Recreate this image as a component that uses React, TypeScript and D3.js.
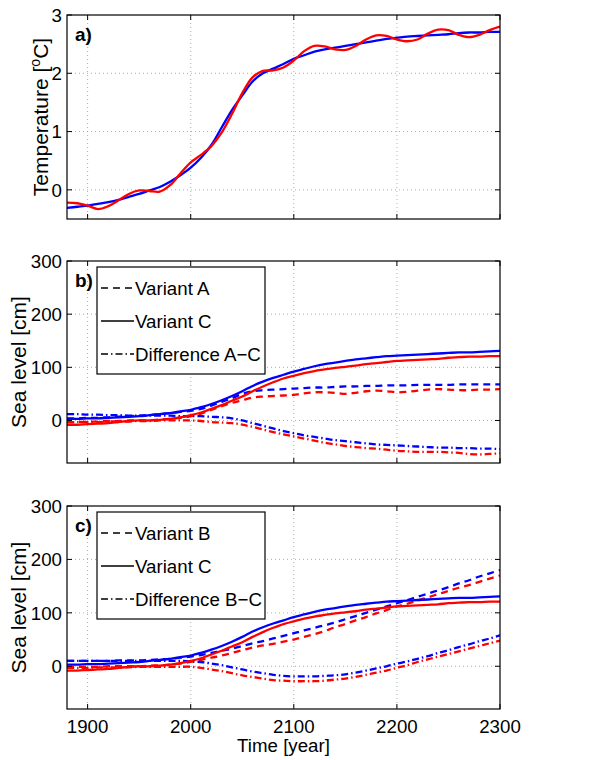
import React from "react";
import * as d3 from "d3";

// years sampled every 10 years
const years = [
  1880, 1890, 1900, 1910, 1920, 1930, 1940, 1950, 1960, 1970, 1980, 1990, 2000,
  2010, 2020, 2030, 2040, 2050, 2060, 2070, 2080, 2090, 2100, 2110, 2120, 2130,
  2140, 2150, 2160, 2170, 2180, 2190, 2200, 2210, 2220, 2230, 2240, 2250, 2260,
  2270, 2280, 2290, 2300,
];

// panel a: temperature
const tempBlue = [
  -0.31, -0.29, -0.27, -0.24, -0.21, -0.17, -0.12, -0.07, -0.01, 0.05, 0.14,
  0.25, 0.38, 0.55, 0.77, 1.07, 1.37, 1.62, 1.86, 2.0, 2.08, 2.16, 2.25, 2.31,
  2.37, 2.41, 2.44, 2.47, 2.5, 2.53, 2.56, 2.59, 2.61, 2.63, 2.64, 2.65, 2.66,
  2.67, 2.69, 2.7, 2.7, 2.71, 2.71,
];
const tempRed = [
  -0.22, -0.23, -0.27, -0.33, -0.28, -0.18, -0.07, -0.01, -0.02, -0.03, 0.08,
  0.28, 0.47, 0.6, 0.75, 0.98, 1.3, 1.66, 1.93, 2.04, 2.05, 2.1, 2.22, 2.38,
  2.47, 2.46, 2.41, 2.4, 2.47, 2.58, 2.65, 2.64, 2.58, 2.55, 2.58, 2.68, 2.75,
  2.74, 2.66, 2.62, 2.66, 2.74, 2.8,
];

// variant C (same in b and c)
const cBlue = [
  3, 3, 4, 4, 5, 6, 7, 8, 10, 12, 14, 17, 20, 25, 31, 38, 46, 55, 65, 73, 80,
  86, 92, 97, 102, 106, 109, 112, 115, 117, 119, 121, 122, 123, 124, 125, 126,
  127, 128, 128, 129, 130, 131,
];
const cRed = [
  -8, -8, -7, -6, -5, -3, -1, 0, 0, 1, 3, 6, 10, 15, 22, 29, 37, 45, 55, 64,
  72, 79, 84, 89, 93, 96, 99, 101, 103, 106, 108, 110, 112, 113, 114, 115, 116,
  118, 119, 120, 120, 121, 121,
];

// panel b: variant A and difference A-C
const aBlue = [
  4, 4, 5, 5, 6, 7, 8, 9, 10, 12, 14, 16, 18, 22, 28, 35, 42, 50, 55, 57, 58,
  59, 60, 61, 62, 62, 63, 64, 64, 65, 65, 66, 66, 66, 67, 67, 67, 67, 68, 68, 68,
  68, 68,
];
const aRed = [
  -3, -3, -2, -2, -1, -1, 0, 0, 0, 2, 3, 5, 8, 13, 20, 27, 33, 38, 43, 45, 46,
  47, 48, 51, 53, 53, 52, 50, 52, 55, 56, 55, 53, 54, 56, 58, 59, 58, 57, 57, 58,
  58, 59,
];
const diffABlue = [
  12, 12, 11, 11, 10, 10, 9, 9, 9, 9, 9, 8, 8, 8, 7, 6, 4, 0, -5, -10, -15,
  -20, -24, -28, -31, -34, -37, -39, -41, -43, -45, -46, -47, -48, -49, -50, -51,
  -51, -52, -52, -53, -53, -54,
];
const diffARed = [
  -3, -3, -3, -3, -2, -2, -2, -1, -1, 0, 0, 0, 0, -1, -3, -4, -5, -8, -12, -17,
  -22, -26, -30, -34, -38, -42, -45, -48, -50, -52, -53, -55, -57, -58, -59, -59,
  -59, -60, -61, -63, -64, -63, -62,
];

// panel c: variant B and difference B-C
const bBlue = [
  10, 10, 10, 10, 10, 11, 11, 11, 12, 13, 14, 16, 18, 21, 25, 29, 33, 38, 43,
  47, 52, 57, 62, 67, 72, 77, 82, 88, 94, 100, 106, 112, 118, 124, 130, 136, 142,
  148, 155, 161, 168, 174, 180,
];
const bRed = [
  -1, -1, -1, -1, 0, 0, 0, 0, 1, 2, 3, 5, 8, 12, 16, 20, 25, 30, 35, 39, 42, 46,
  50, 55, 60, 66, 73, 79, 86, 92, 99, 105, 112, 117, 123, 129, 135, 141, 147,
  152, 158, 164, 170,
];
const diffBBlue = [
  10, 10, 10, 10, 10, 10, 10, 10, 10, 10, 10, 10, 9, 8, 5, 2, -2, -6, -10, -13,
  -16, -18, -19, -19, -19, -18, -17, -15, -12, -8, -4, 0, 5, 9, 14, 19, 25, 30,
  36, 41, 47, 52, 58,
];
const diffBRed = [
  -3, -3, -3, -2, -2, -2, -2, -1, -1, -1, -1, -1, -1, -3, -6, -9, -13, -17, -20,
  -23, -26, -27, -28, -28, -28, -27, -25, -23, -20, -16, -12, -8, -3, 2, 8, 13,
  18, 23, 28, 33, 38, 43, 48,
];

const xTicks = [1900, 2000, 2100, 2200, 2300];
const tempTicks = [0, 1, 2, 3];
const seaTicks = [0, 100, 200, 300];

const BLUE = "#0000ff";
const RED = "#ff0000";
const DASH = "7,5";
const DASHDOT = "7,3,1.5,3";
const FONT = "'Liberation Sans', Arial, Helvetica, sans-serif";
const FS = 18.7;
const LABEL_FS = 21;

const L = 67;
const R = 500;
const x = d3.scaleLinear().domain([1880, 2300]).range([L, R]);

type Series = { values: number[]; color: string; dash?: string };

const Panel = ({
  id,
  top,
  bottom,
  domain,
  ticks,
  label,
  yLabel,
  yLabelX,
  series,
  legend,
  showX,
}: {
  id: string;
  top: number;
  bottom: number;
  domain: [number, number];
  ticks: number[];
  label: string;
  yLabel: React.ReactNode;
  yLabelX: number;
  series: Series[];
  legend?: string[];
  showX?: boolean;
}) => {
  const y = d3.scaleLinear().domain(domain).range([bottom, top]);
  const line = d3
    .line<number>()
    .x((_, i) => x(years[i]))
    .y((d) => y(d))
    .curve(d3.curveCatmullRom);
  const midY = (top + bottom) / 2;
  const legendStyles = [DASH, undefined, DASHDOT];
  return (
    <g>
      <defs>
        <clipPath id={`clip-${id}`}>
          <rect x={L} y={top} width={R - L} height={bottom - top} />
        </clipPath>
      </defs>
      <rect x={L} y={top} width={R - L} height={bottom - top} fill="white" />
      {/* grid */}
      {xTicks
        .filter((t) => t > 1880 && t < 2300)
        .map((t) => (
          <line
            key={`gx${t}`}
            x1={x(t)}
            x2={x(t)}
            y1={top}
            y2={bottom}
            stroke="#999"
            strokeWidth={0.8}
            strokeDasharray="1,3"
          />
        ))}
      {ticks
        .filter((t) => y(t) > top + 1 && y(t) < bottom - 1)
        .map((t) => (
          <line
            key={`gy${t}`}
            x1={L}
            x2={R}
            y1={y(t)}
            y2={y(t)}
            stroke="#999"
            strokeWidth={0.8}
            strokeDasharray="1,3"
          />
        ))}
      {/* data */}
      <g clipPath={`url(#clip-${id})`}>
        {series.map((s, i) => (
          <path
            key={i}
            d={line(s.values) || ""}
            fill="none"
            stroke={s.color}
            strokeWidth={2.3}
            strokeDasharray={s.dash}
          />
        ))}
      </g>
      {/* ticks inward */}
      {xTicks.map((t) => (
        <g key={`tx${t}`}>
          <line x1={x(t)} x2={x(t)} y1={bottom} y2={bottom - 5} stroke="black" />
          <line x1={x(t)} x2={x(t)} y1={top} y2={top + 5} stroke="black" />
        </g>
      ))}
      {ticks.map((t) => (
        <g key={`ty${t}`}>
          <line x1={L} x2={L + 5} y1={y(t)} y2={y(t)} stroke="black" />
          <line x1={R} x2={R - 5} y1={y(t)} y2={y(t)} stroke="black" />
          <text
            x={L - 5}
            y={y(t)}
            dy="0.36em"
            textAnchor="end"
            fontSize={FS}
            fontFamily={FONT}
          >
            {t}
          </text>
        </g>
      ))}
      <rect
        x={L}
        y={top}
        width={R - L}
        height={bottom - top}
        fill="none"
        stroke="black"
        strokeWidth={1.2}
      />
      {showX &&
        xTicks.map((t) => (
          <text
            key={`lx${t}`}
            x={x(t)}
            y={bottom + 24}
            textAnchor="middle"
            fontSize={FS}
            fontFamily={FONT}
          >
            {t}
          </text>
        ))}
      <text
        transform={`translate(${yLabelX},${midY}) rotate(-90)`}
        textAnchor="middle"
        dy="0.36em"
        fontSize={LABEL_FS}
        fontFamily={FONT}
      >
        {yLabel}
      </text>
      <text
        x={75}
        y={top + 26}
        fontSize={19}
        fontWeight="bold"
        fontFamily={FONT}
      >
        {label}
      </text>
      {legend && (
        <g>
          <rect
            x={97}
            y={top + 6}
            width={168}
            height={107}
            fill="white"
            stroke="black"
            strokeWidth={1.2}
          />
          {legend.map((txt, i) => {
            const ly = top + 27 + i * 33;
            return (
              <g key={txt}>
                <line
                  x1={101}
                  x2={134}
                  y1={ly}
                  y2={ly}
                  stroke="black"
                  strokeWidth={1.5}
                  strokeDasharray={legendStyles[i]}
                />
                <text
                  x={135}
                  y={ly}
                  dy="0.36em"
                  fontSize={FS}
                  fontFamily={FONT}
                >
                  {txt}
                </text>
              </g>
            );
          })}
        </g>
      )}
    </g>
  );
};

export default function App() {
  return (
    <svg
      width={614}
      height={760}
      style={{ display: "block", position: "absolute", left: 0, top: 0 }}
    >
      <rect width={614} height={760} fill="white" />
      <Panel
        id="a"
        top={15}
        bottom={219}
        domain={[-0.5, 3]}
        ticks={tempTicks}
        label="a)"
        yLabelX={40}
        yLabel={
          <>
            Temperature [
            <tspan fontSize={14} dy={-8}>
              o
            </tspan>
            <tspan dy={8}>C]</tspan>
          </>
        }
        series={[
          { values: tempBlue, color: BLUE },
          { values: tempRed, color: RED },
        ]}
      />
      <Panel
        id="b"
        top={261}
        bottom={463}
        domain={[-80, 300]}
        ticks={seaTicks}
        label="b)"
        yLabelX={18}
        yLabel="Sea level [cm]"
        legend={["Variant A", "Variant C", "Difference A\u2212C"]}
        series={[
          { values: aBlue, color: BLUE, dash: DASH },
          { values: aRed, color: RED, dash: DASH },
          { values: diffABlue, color: BLUE, dash: DASHDOT },
          { values: diffARed, color: RED, dash: DASHDOT },
          { values: cBlue, color: BLUE },
          { values: cRed, color: RED },
        ]}
      />
      <Panel
        id="c"
        top={506}
        bottom={709}
        domain={[-80, 300]}
        ticks={seaTicks}
        label="c)"
        yLabelX={18}
        yLabel="Sea level [cm]"
        legend={["Variant B", "Variant C", "Difference B\u2212C"]}
        showX
        series={[
          { values: bBlue, color: BLUE, dash: DASH },
          { values: bRed, color: RED, dash: DASH },
          { values: diffBBlue, color: BLUE, dash: DASHDOT },
          { values: diffBRed, color: RED, dash: DASHDOT },
          { values: cBlue, color: BLUE },
          { values: cRed, color: RED },
        ]}
      />
      <text
        x={(L + R) / 2}
        y={752}
        textAnchor="middle"
        fontSize={FS}
        fontFamily={FONT}
      >
        Time [year]
      </text>
    </svg>
  );
}
